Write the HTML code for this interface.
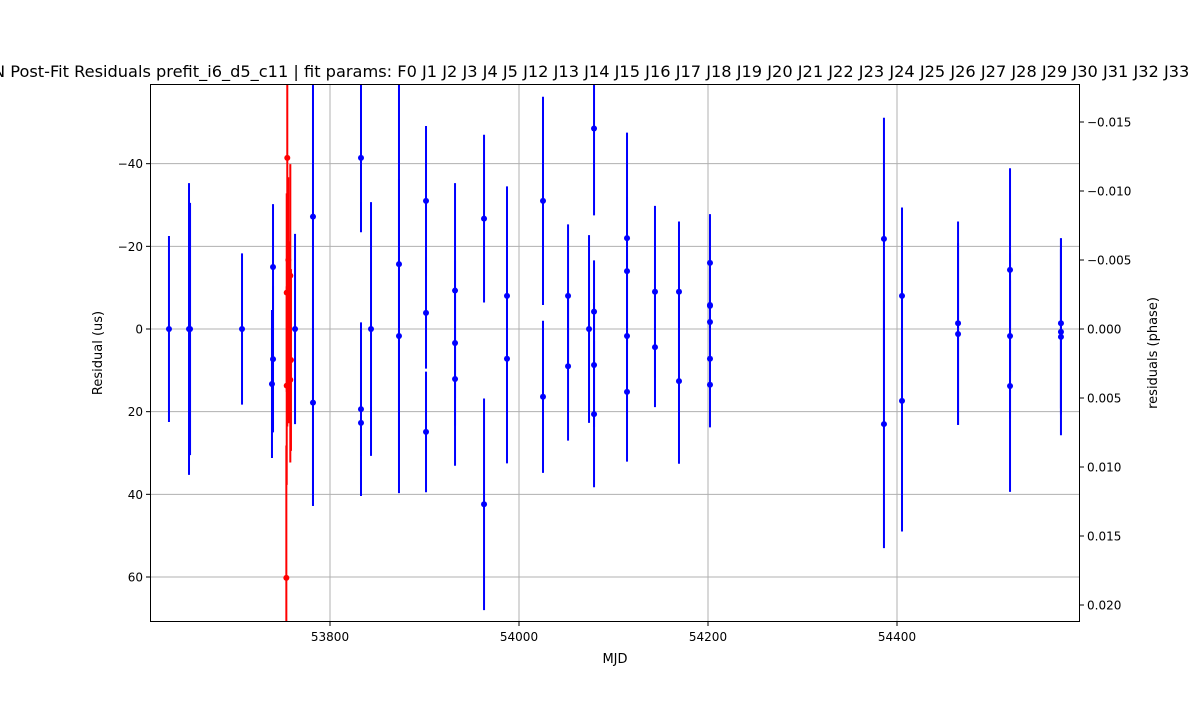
<!DOCTYPE html>
<html><head><meta charset="utf-8"><style>
body{margin:0;background:#fff}
svg text{font-family:"DejaVu Sans","Liberation Sans",sans-serif;fill:#000}
</style></head><body>
<svg id="chart" width="1200" height="700" xmlns="http://www.w3.org/2000/svg">
<rect width="1200" height="700" fill="#fff"/>
<text x="-7" y="77" font-size="16.2">N Post-Fit Residuals prefit_i6_d5_c11 | fit params: F0 J1 J2 J3 J4 J5 J12 J13 J14 J15 J16 J17 J18 J19 J20 J21 J22 J23 J24 J25 J26 J27 J28 J29 J30 J31 J32 J33</text>
<g id="grid"></g>
<g id="marks"></g>
<rect x="150.5" y="84.5" width="929" height="537" fill="none" stroke="#000" stroke-width="1"/>
<g id="axes"></g>
<text x="615" y="663" font-size="13" text-anchor="middle">MJD</text>
<text transform="translate(102,353) rotate(-90)" font-size="13" text-anchor="middle">Residual (us)</text>
<text transform="translate(1157,353) rotate(-90)" font-size="13" text-anchor="middle">residuals (phase)</text>
</svg>
<script>
const blueMjd = [53629.6,53650.8,53651.9,53706.9,53739.7,53739.7,53738.6,53763.0,53782.0,53782.0,53832.8,53832.8,53832.8,53843.4,53873.0,53873.0,53901.6,53901.6,53901.6,53932.3,53932.3,53932.3,53963.0,53963.0,53987.3,53987.3,54025.4,54025.4,54051.9,54051.9,54074.1,54079.4,54079.4,54079.4,54079.4,54114.3,54114.3,54114.3,54114.3,54143.9,54143.9,54169.3,54169.3,54202.1,54202.1,54202.1,54202.1,54202.1,54202.1,54386.2,54386.2,54405.3,54405.3,54464.6,54464.6,54519.6,54519.6,54519.6,54573.5,54573.5,54573.5];
const blueRes = [0,0,0,0,-15,7.3,13.3,0,-27.2,17.8,-41.4,19.4,22.7,0,-15.7,1.7,-31,-3.9,24.9,-9.3,3.4,12.1,-26.7,42.4,-8,7.2,-31,16.4,-8,9,0,-48.5,-4.2,8.7,20.6,-22,-14,1.7,15.2,-9,4.4,-9,12.6,-16,-5.8,-5.6,-1.7,7.2,13.5,-21.8,23,-8,17.4,-1.4,1.2,-14.3,1.7,13.8,-1.4,0.7,1.9];
const blueErr = [22.5,35.3,30.5,18.3,15.2,17.7,17.9,23,70,25,18,21,15,30.7,45,38,18.1,13.5,14.6,26,20,21,20.3,25.6,26.5,25.3,25.2,18.4,17.3,18,22.7,21,12.4,15,17.7,25.5,18,20,16.9,20.8,14.5,17,20,11.8,9,9,10,10,10.3,29.3,30,21.4,31.6,24.6,22,24.6,20,25.6,20.6,20,23.8];
const redMjd = [53754.8,53755.9,53758.0,53754.2,53756.6,53758.7,53758.0,53754.2,53753.8];
const redRes = [-41.4,-16.7,-12.9,-8.8,0.8,7.5,12.3,13.7,60.2];
const redErr = [65,20,27,24,22,22,20,24,32];
const xTicks = [53800,54000,54200,54400];
const yTicks = [-40,-20,0,20,40,60];
const phaseTicks = [-0.015,-0.010,-0.005,0.000,0.005,0.010,0.015,0.020];
const NS='http://www.w3.org/2000/svg';
const X0=150,X1=1080,Y0=84,Y1=622;
const xScale=m=>330+(m-53800)*0.945;
const yScale=v=>329+v*4.1333;
const pScale=p=>329+p*13800;
function mk(tag,attrs,parent){const e=document.createElementNS(NS,tag);for(const k in attrs)e.setAttribute(k,attrs[k]);parent.appendChild(e);return e;}
const grid=document.getElementById('grid'),marks=document.getElementById('marks'),axes=document.getElementById('axes');
const clip=mk('clipPath',{id:'pc'},document.getElementById('chart'));mk('rect',{x:X0,y:Y0,width:X1-X0,height:Y1-Y0},clip);
marks.setAttribute('clip-path','url(#pc)');
xTicks.forEach(t=>{const x=xScale(t);
 const g=mk('line',{x1:x,x2:x,y1:Y0,y2:Y1,stroke:'#b0b0b0','stroke-width':1},grid);
 
 
 mk('line',{x1:x,x2:x,y1:Y1,y2:Y1+4,stroke:'#000'},axes);
 const tx=mk('text',{x:x,y:Y1+19,'font-size':12,'text-anchor':'middle'},axes);tx.textContent=t;
 
 });
yTicks.forEach(t=>{const y=yScale(t);
 const g=mk('line',{x1:X0,x2:X1,y1:y,y2:y,stroke:'#b0b0b0','stroke-width':1},grid);
 
 
 mk('line',{x1:X0-4,x2:X0,y1:y,y2:y,stroke:'#000'},axes);
 const tx=mk('text',{x:X0-7,y:y+4.5,'font-size':12,'text-anchor':'end'},axes);tx.textContent=t<0?'\u2212'+(-t):t;
 
 });
phaseTicks.forEach(t=>{const y=pScale(t);
 mk('line',{x1:X1,x2:X1+4,y1:y,y2:y,stroke:'#000'},axes);
 const tx=mk('text',{x:X1+7,y:y+4.5,'font-size':12},axes);tx.textContent=(t<0?'\u2212':'')+Math.abs(t).toFixed(3);
 
 });
function series(ms,rs,es,col,name){ms.forEach((m,i)=>{const x=xScale(m),y=yScale(rs[i]);
 const l=mk('line',{x1:x,x2:x,y1:yScale(rs[i]-es[i]),y2:yScale(rs[i]+es[i]),stroke:col,'stroke-width':2},marks);
 
 
 const c=mk('circle',{cx:x,cy:y,r:3,fill:col},marks);
 
 });}
series(blueMjd,blueRes,blueErr,'#0000ff','blue');
series(redMjd,redRes,redErr,'#ff0000','red');
</script>
</body></html>
